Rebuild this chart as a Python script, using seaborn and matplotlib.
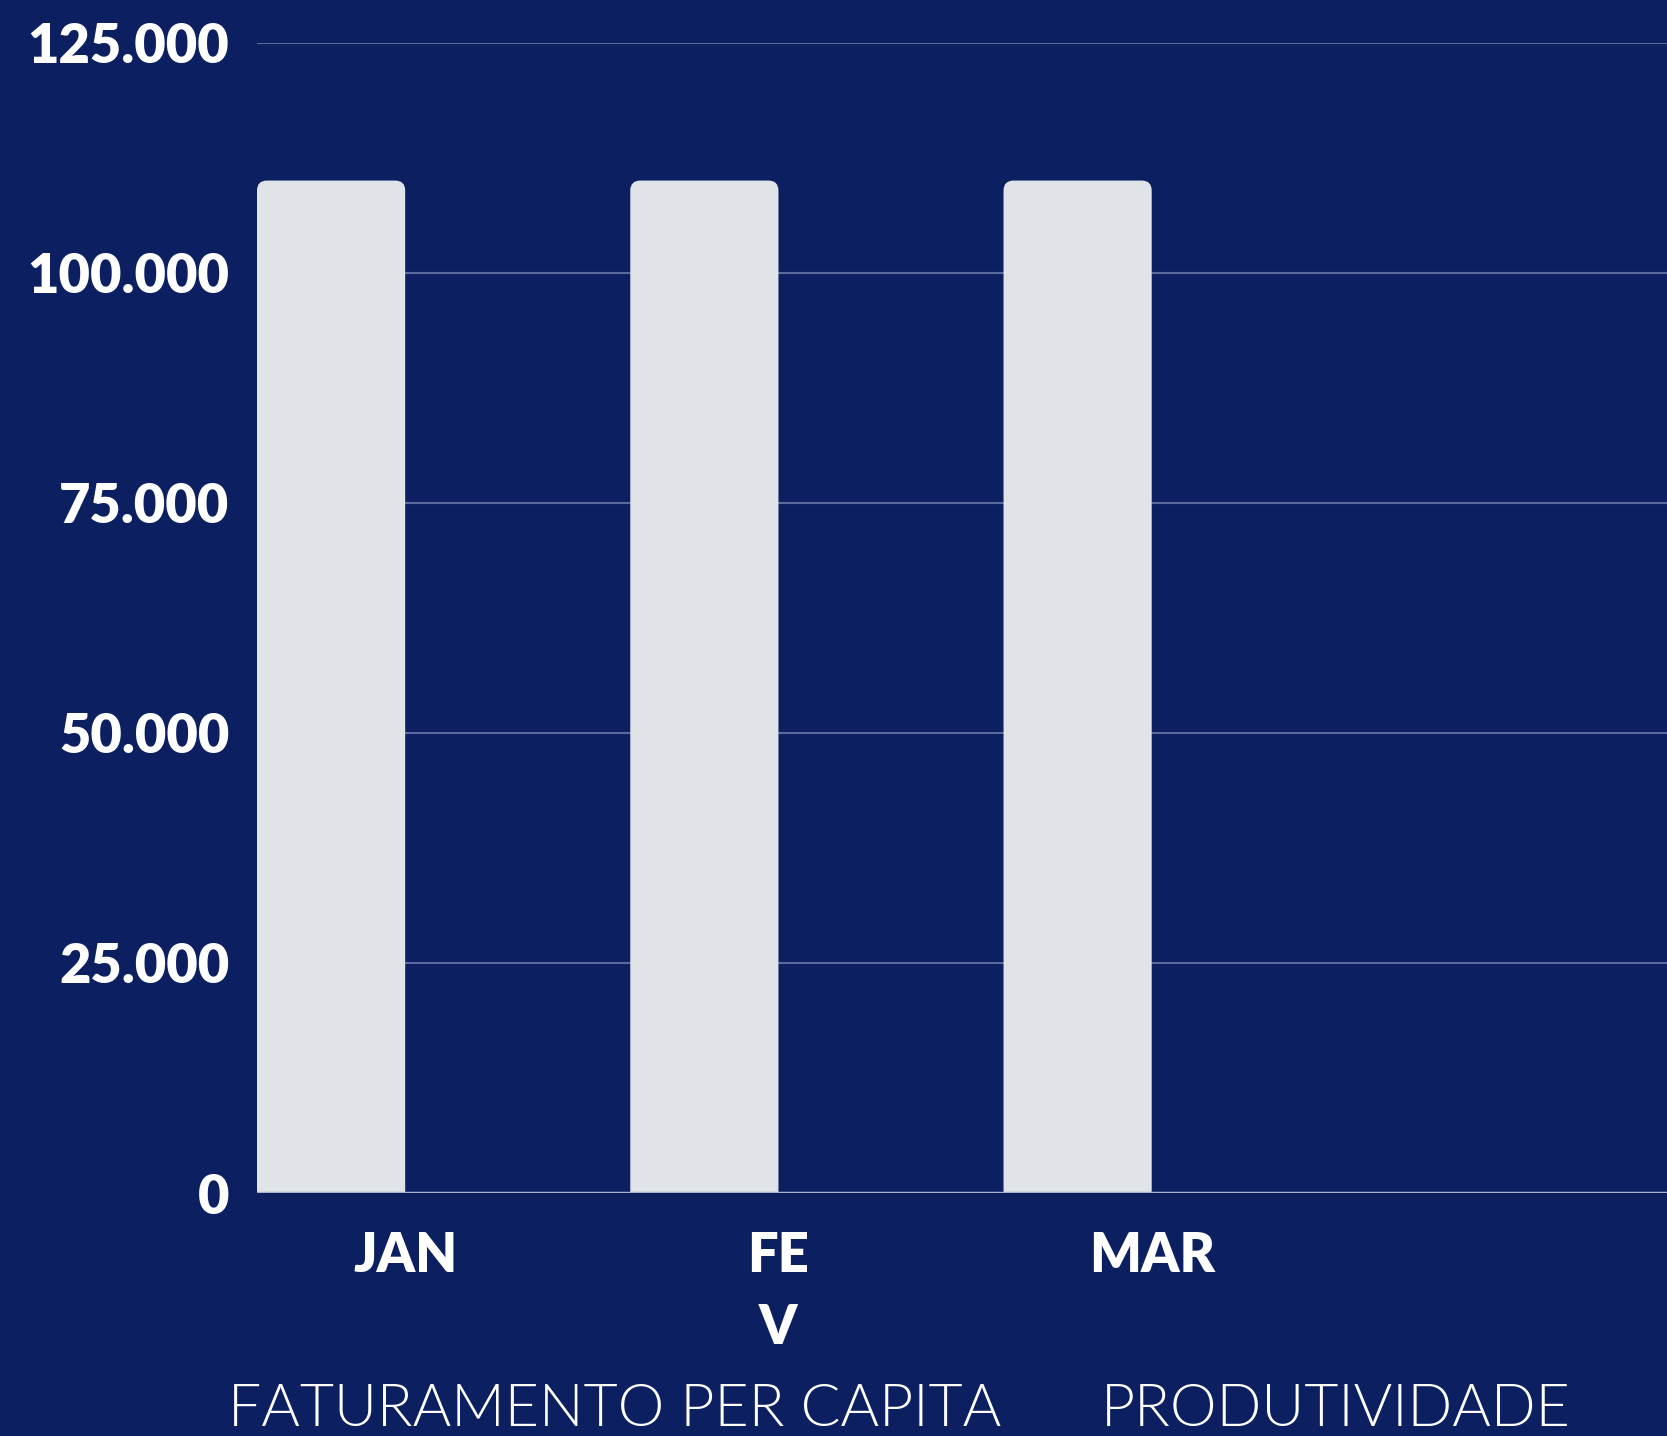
import matplotlib
matplotlib.use("Agg")
import matplotlib.pyplot as plt
import seaborn as sns
from matplotlib.patches import FancyBboxPatch
from matplotlib.ticker import FuncFormatter

# ============================================================
# DATA
# ============================================================
months = ["JAN", "FEV", "MAR"]
month_tick_labels = ["JAN", "FE\nV", "MAR"]
values = [110000, 110000, 110000]
y_ticks = [0, 25000, 50000, 75000, 100000, 125000]
series_labels = ["FATURAMENTO PER CAPITA", "PRODUTIVIDADE"]

BG = "#0C1F60"
BAR_COLOR = "#E0E3E8"
BAR_W = 0.397

sns.set_theme(style="white")
plt.rcParams["font.family"] = ["Lato", "DejaVu Sans"]

fig = plt.figure(figsize=(16.67, 14.36), dpi=100, facecolor=BG)
ax = fig.add_axes([257 / 1667, 1 - 1193 / 1436, 1 - 257 / 1667, (1193 - 42.5) / 1436])
ax.set_facecolor(BG)

sns.barplot(x=months, y=values, color=BAR_COLOR, saturation=1, width=BAR_W, ax=ax, zorder=3)

ax.set_ylim(0, 125000)
ax.set_xlim(-BAR_W / 2, -BAR_W / 2 + (1667 - 258) / 373)

# barras com cantos arredondados (so em cima, embaixo fica cortado pelo ylim)
px_x = (1 / 373)
px_y = 125000 / 1150.5
r = 10 * px_x
for p in list(ax.patches):
    x, w, h = p.get_x(), p.get_width(), p.get_height()
    p.remove()
    rb = FancyBboxPatch((x, -2000), w, h + 2000,
                        boxstyle=f"round,pad=0,rounding_size={r}",
                        mutation_aspect=px_y / px_x,
                        facecolor=BAR_COLOR, edgecolor="none", zorder=3)
    ax.add_patch(rb)

# grid
ax.set_yticks(y_ticks)
for yv in y_ticks[1:]:
    ax.axhline(yv, color="#5B6A9C", lw=1.5, zorder=1)
ax.axhline(0, color="#A9B0CC", lw=2.5, zorder=4)

for s in ax.spines.values():
    s.set_visible(False)

ax.yaxis.set_major_formatter(FuncFormatter(lambda v, _: f"{int(v):,}".replace(",", ".")))
ax.tick_params(axis="y", length=0, pad=20, labelsize=39, labelcolor="white")
ax.tick_params(axis="x", length=0, pad=27, labelsize=39, labelcolor="white")
for t in ax.get_yticklabels():
    t.set_fontweight("heavy")

ax.set_xticks([i + BAR_W / 2 for i in range(len(months))])
ax.set_xticklabels(month_tick_labels, fontweight="heavy", linespacing=1.55)
ax.set_xlabel("")
ax.set_ylabel("")

# legenda como texto
fig.text(615 / 1667, 1 - 1410 / 1436, series_labels[0], color="white", fontsize=42.5,
         fontweight=300, ha="center", va="center")
fig.text(1336 / 1667, 1 - 1410 / 1436, series_labels[1], color="white", fontsize=42.5,
         fontweight=300, ha="center", va="center")

fig.savefig("out.png", dpi=100, facecolor=BG)
